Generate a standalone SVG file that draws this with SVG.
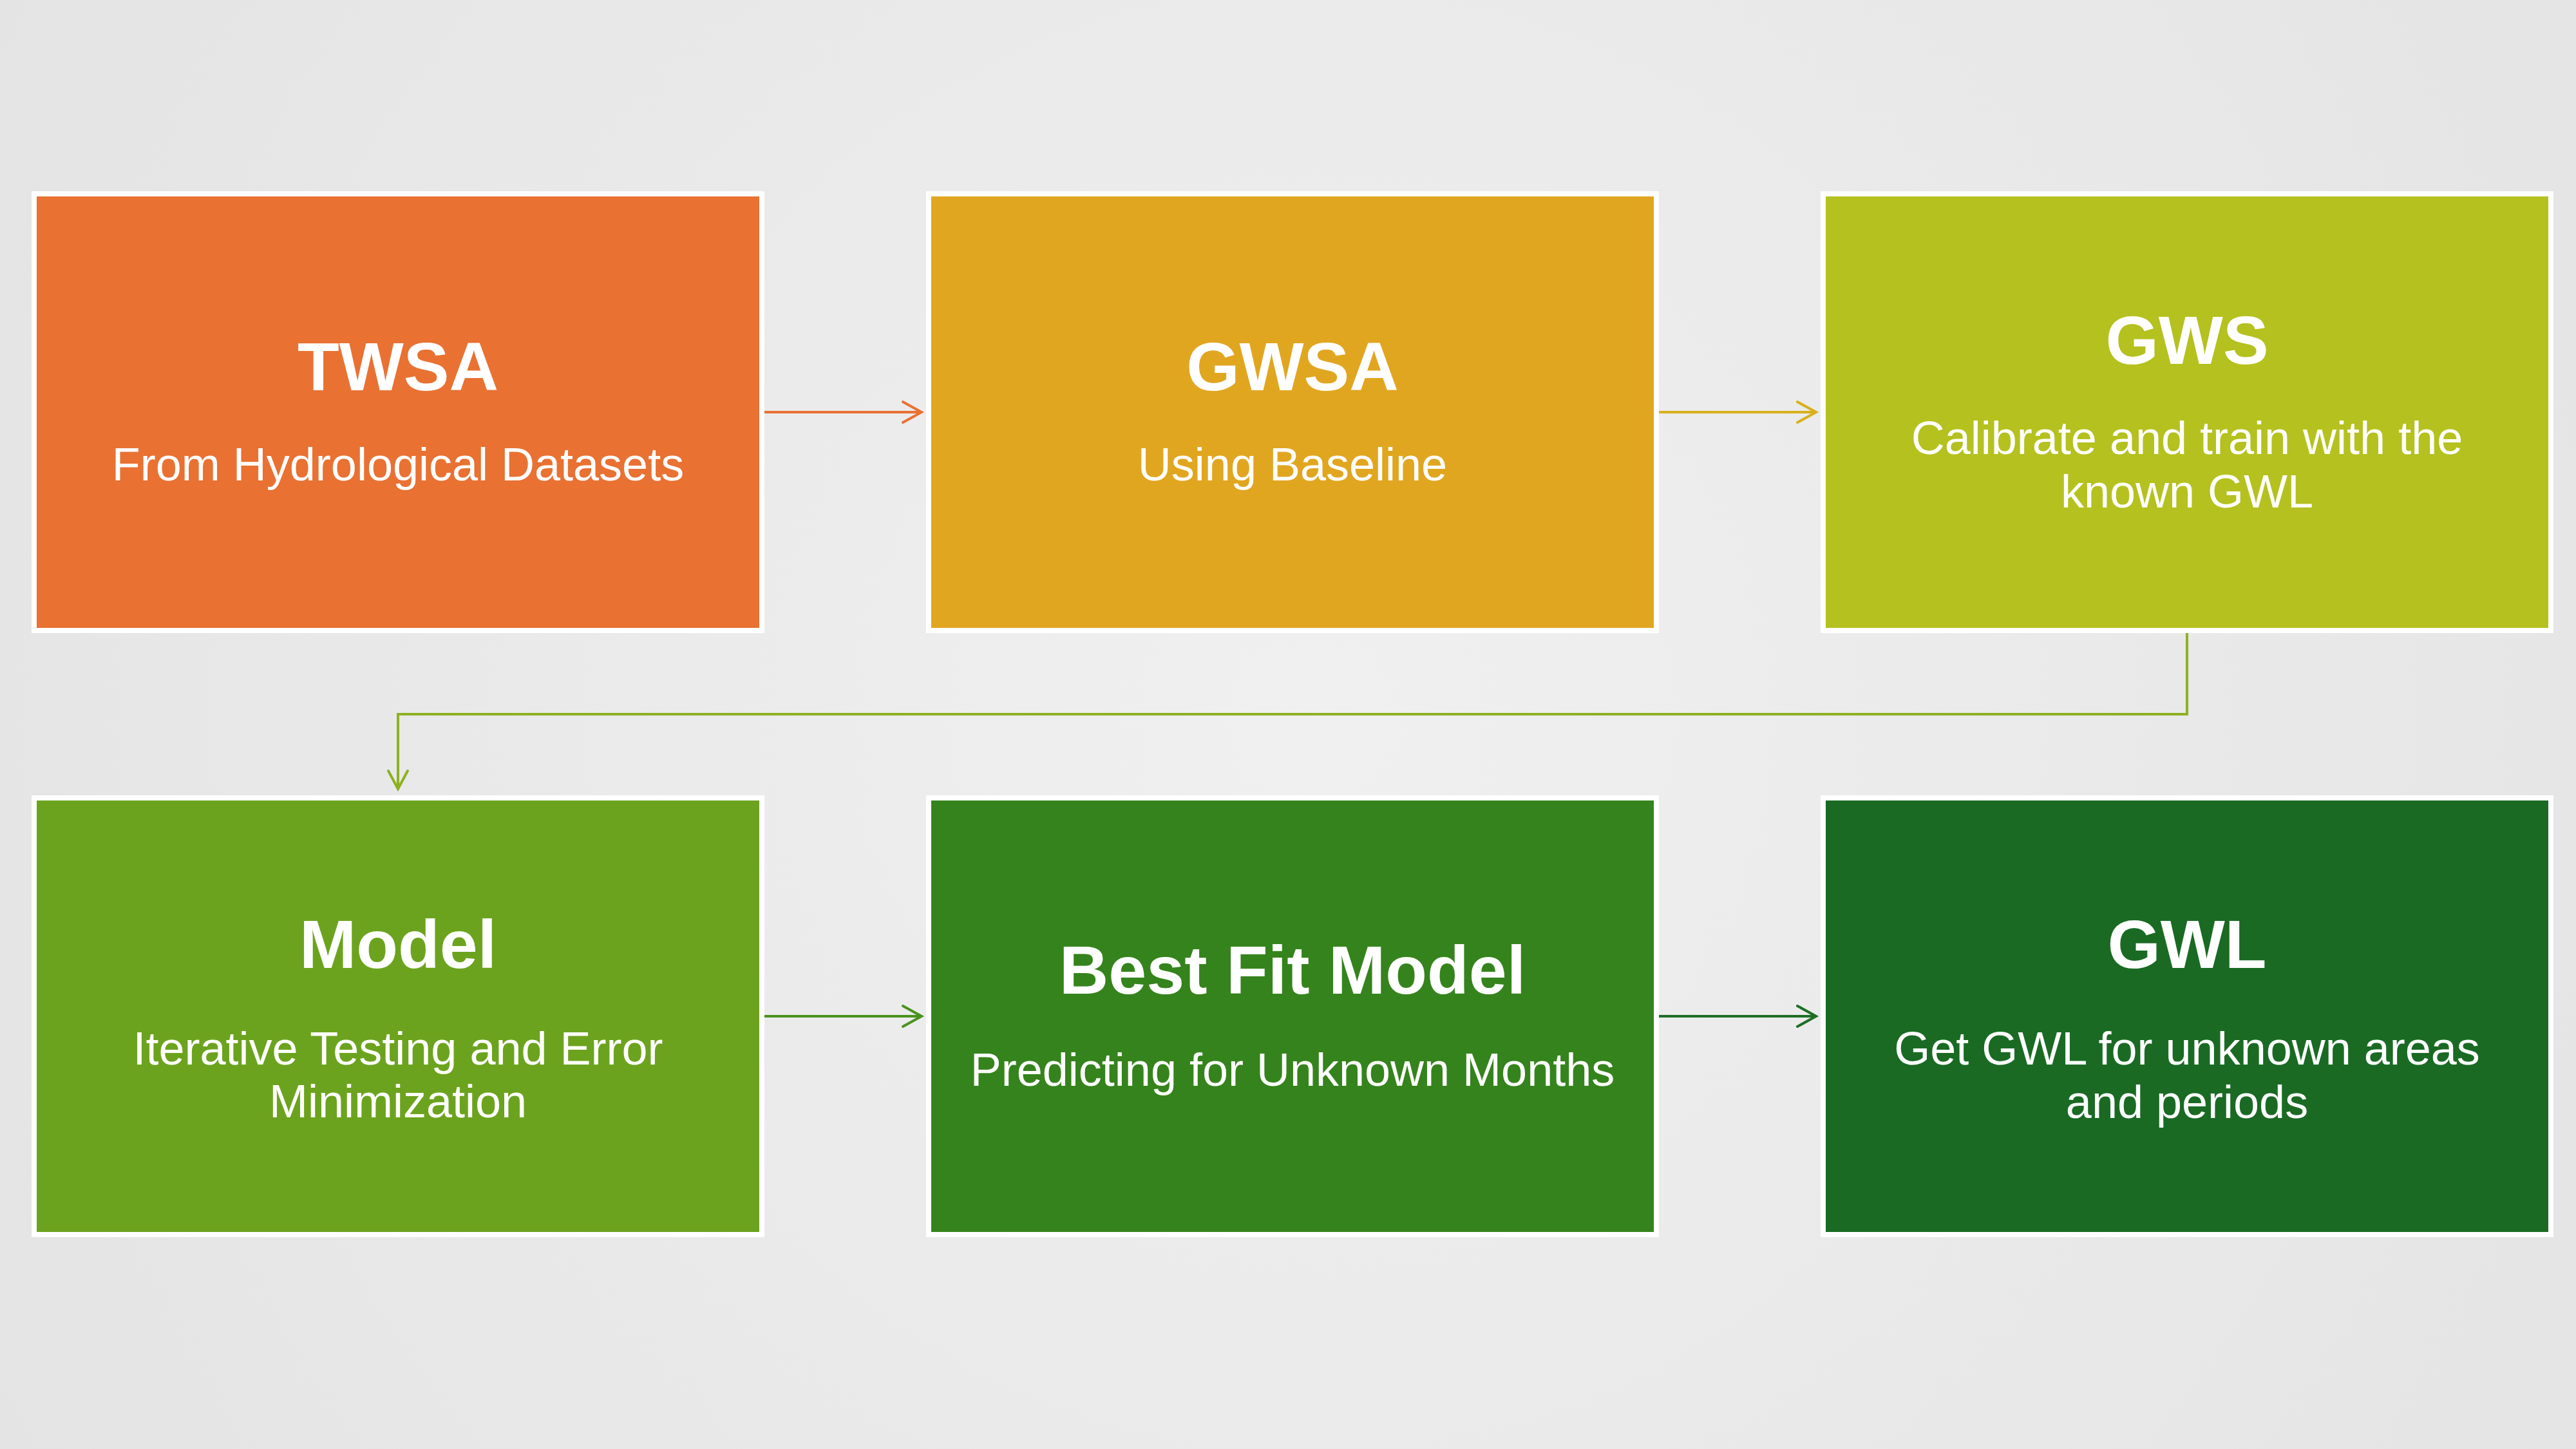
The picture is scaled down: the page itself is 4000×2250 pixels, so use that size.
<svg xmlns="http://www.w3.org/2000/svg" width="4000" height="2250" viewBox="0 0 4000 2250">
  <defs>
    <radialGradient id="bg" cx="2040" cy="1120" r="2300" gradientUnits="userSpaceOnUse">
      <stop offset="0" stop-color="#F0F0F0"/>
      <stop offset="1" stop-color="#E4E4E4"/>
    </radialGradient>
    <style>
      .box { stroke: #FFFFFF; stroke-width: 8; }
      .title { font-family: "Liberation Sans", Arial, sans-serif; font-weight: bold; font-size: 106px; fill: #FFFFFF; text-anchor: middle; }
      .sub { font-family: "Liberation Sans", Arial, sans-serif; font-size: 72px; fill: #FFFFFF; text-anchor: middle; }
      .conn { fill: none; stroke-width: 4; stroke-linecap: round; stroke-linejoin: miter; }
    </style>
  </defs>

  <rect x="0" y="0" width="4000" height="2250" fill="url(#bg)"/>

  <!-- flow connectors -->
  <g id="connectors">
    <g stroke="#E97132" class="conn">
      <path d="M1187 640 H1430"/>
      <path d="M1402 624 L1431 640 L1402 656"/>
    </g>
    <g stroke="#D9B01C" class="conn">
      <path d="M2576 640 H2819"/>
      <path d="M2791 624 L2820 640 L2791 656"/>
    </g>
    <g stroke="#8DB122" class="conn">
      <path d="M3396 983 V1109 H618 V1224"/>
      <path d="M603 1197 L618 1225 L633 1197"/>
    </g>
    <g stroke="#4A921E" class="conn">
      <path d="M1187 1578 H1430"/>
      <path d="M1402 1562 L1431 1578 L1402 1594"/>
    </g>
    <g stroke="#1E6E24" class="conn">
      <path d="M2576 1578 H2819"/>
      <path d="M2791 1562 L2820 1578 L2791 1594"/>
    </g>
  </g>

  <!-- row 1 -->
  <g id="twsa">
    <rect class="box" x="53" y="301" width="1130" height="678" fill="#E97132"/>
    <text class="title" x="618" y="606">TWSA</text>
    <text class="sub" x="618" y="746">From Hydrological Datasets</text>
  </g>
  <g id="gwsa">
    <rect class="box" x="1442" y="301" width="1130" height="678" fill="#E1A620"/>
    <text class="title" x="2007" y="606">GWSA</text>
    <text class="sub" x="2007" y="746">Using Baseline</text>
  </g>
  <g id="gws">
    <rect class="box" x="2831" y="301" width="1130" height="678" fill="#B5C11E"/>
    <text class="title" x="3396" y="565">GWS</text>
    <text class="sub" x="3396" y="705">Calibrate and train with the</text>
    <text class="sub" x="3396" y="788">known GWL</text>
  </g>

  <!-- row 2 -->
  <g id="model">
    <rect class="box" x="53" y="1239" width="1130" height="678" fill="#6CA31E"/>
    <text class="title" x="618" y="1503">Model</text>
    <text class="sub" x="618" y="1653">Iterative Testing and Error</text>
    <text class="sub" x="618" y="1735">Minimization</text>
  </g>
  <g id="best-fit-model">
    <rect class="box" x="1442" y="1239" width="1130" height="678" fill="#35831C"/>
    <text class="title" x="2007" y="1543">Best Fit Model</text>
    <text class="sub" x="2007" y="1686">Predicting for Unknown Months</text>
  </g>
  <g id="gwl">
    <rect class="box" x="2831" y="1239" width="1130" height="678" fill="#1A6A24"/>
    <text class="title" x="3396" y="1503">GWL</text>
    <text class="sub" x="3396" y="1653">Get GWL for unknown areas</text>
    <text class="sub" x="3396" y="1736">and periods</text>
  </g>
</svg>
